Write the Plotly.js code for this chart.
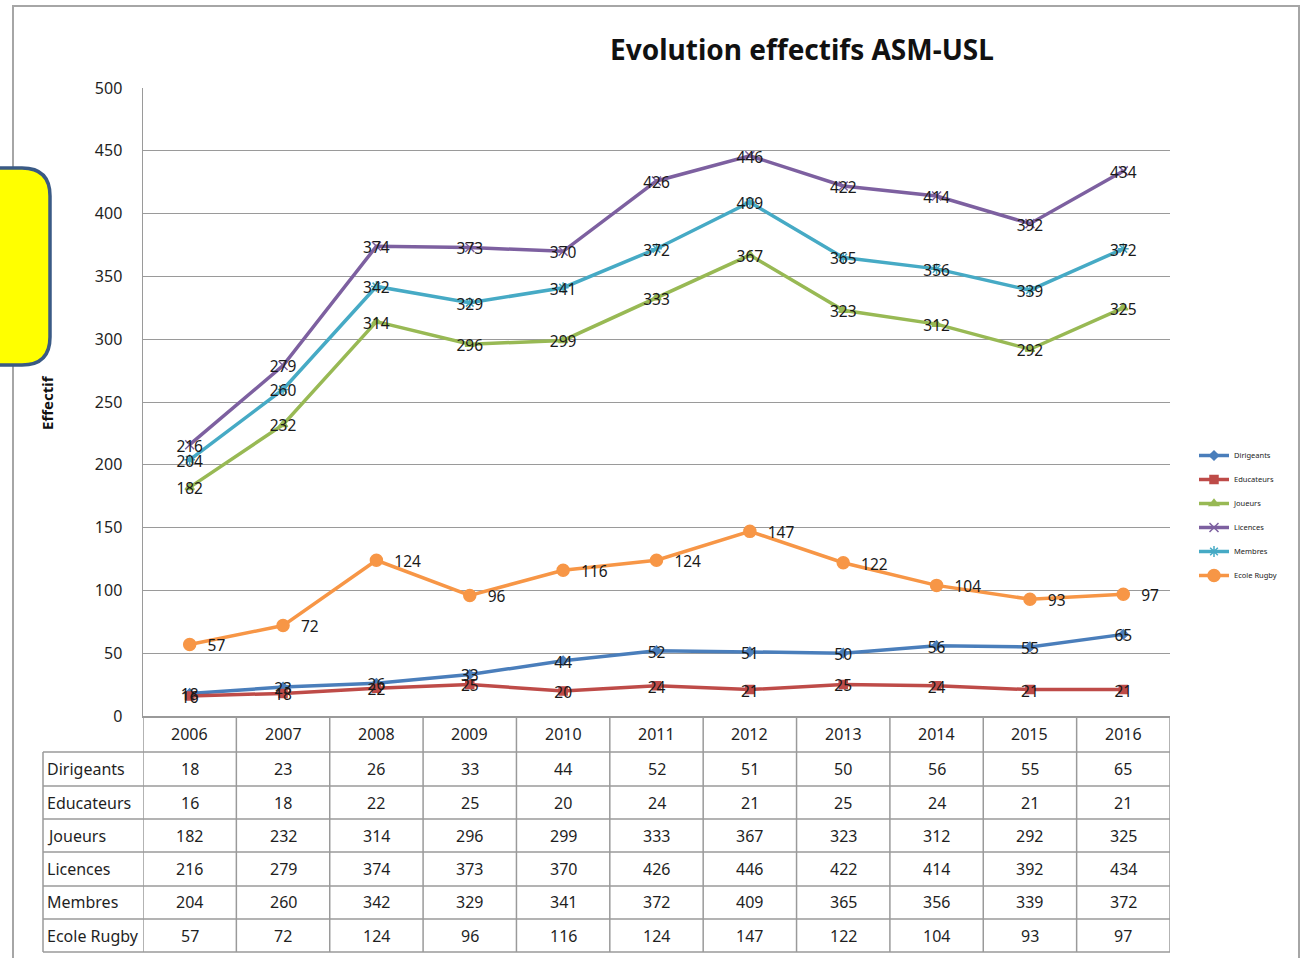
<!DOCTYPE html>
<html>
<head>
<meta charset="utf-8">
<script src="https://cdn.plot.ly/plotly-3.0.1.min.js"></script>
<style>html,body{margin:0;padding:0;background:#fff;}#chart{width:1307px;height:958px;}</style>
</head>
<body>
<div id="chart"></div>
<script>
var years = ['2006','2007','2008','2009','2010','2011','2012','2013','2014','2015','2016'];
var seriesNames = ['Dirigeants','Educateurs','Joueurs','Licences','Membres','Ecole Rugby'];
var dirigeants = [18,23,26,33,44,52,51,50,56,55,65];
var educateurs = [16,18,22,25,20,24,21,25,24,21,21];
var joueurs = [182,232,314,296,299,333,367,323,312,292,325];
var licences = [216,279,374,373,370,426,446,422,414,392,434];
var membres = [204,260,342,329,341,372,409,365,356,339,372];
var ecoleRugby = [57,72,124,96,116,124,147,122,104,93,97];
var yTicks = [0,50,100,150,200,250,300,350,400,450,500];

var allSeries = [dirigeants, educateurs, joueurs, licences, membres, ecoleRugby];
var colors = ['#4A7EBB','#BE4B48','#98B954','#7D60A0','#46AAC5','#F79646'];
var symbols = ['diamond','square','triangle-up','x-thin-open','asterisk-open','circle'];
var msizes = [7,8,8,9,9,12];
var textPos = ['middle center','middle center','middle center','middle center','middle center','middle right'];
var textMarker = [0,0,0,0,0,27];

// pixel -> paper helpers (plot area 143..1170 x 88..716)
var L=143, R=1170, T=88, B=716;
function PX(px){return (px-L)/(R-L);}
function PY(py){return (B-py)/(B-T);}

var FONT = 'Noto Sans, Open Sans, sans-serif';
var traces = [];
allSeries.forEach(function(vals, i){
  traces.push({
    type:'scatter', mode:'lines+markers', x: years, y: vals, name: seriesNames[i],
    legendgroup: 'g'+i,
    line:{color:colors[i], width:3.5},
    marker:{symbol:symbols[i], size:msizes[i], color:colors[i], line:{color:colors[i], width:1.5}},
    hoverinfo:'x+y+name'
  });
});
allSeries.forEach(function(vals, i){
  var t = {
    type:'scatter', mode: textMarker[i] ? 'markers+text' : 'text', x: years, y: vals, showlegend:false,
    yaxis:'y2',
    text: vals.map(String), textposition: textPos[i],
    textfont:{family:FONT, size:15.5, color:'#1a1a1a'}, hoverinfo:'skip', cliponaxis:false
  };
  if (textMarker[i]) t.marker = {size:textMarker[i], opacity:0, color:'rgba(0,0,0,0)'};
  traces.push(t);
});

var shapes = [];
var annotations = [];
var gridCol = '#9a9a9a';
// outer frame
shapes.push({type:'rect', xref:'paper', yref:'paper', x0:PX(13), x1:PX(1299), y0:PY(6), y1:PY(990), line:{color:'#a6a6a6', width:2}, fillcolor:'rgba(0,0,0,0)', layer:'below'});
// yellow rounded box
(function(){
  var x0=-20, x1=50, y0=168, y1=365, r=28;
  var p = 'M '+PX(x0)+','+PY(y0)+' L '+PX(x1-r)+','+PY(y0)+' Q '+PX(x1)+','+PY(y0)+' '+PX(x1)+','+PY(y0+r)+
          ' L '+PX(x1)+','+PY(y1-r)+' Q '+PX(x1)+','+PY(y1)+' '+PX(x1-r)+','+PY(y1)+' L '+PX(x0)+','+PY(y1)+' Z';
  shapes.push({type:'path', xref:'paper', yref:'paper', path:p, fillcolor:'#FFFF00', line:{color:'#3A5A85', width:3.5}});
})();
// table lines
var rowLines = [752,786,819,852,886,919,952];
rowLines.forEach(function(py){
  shapes.push({type:'line', xref:'paper', yref:'paper', x0:PX(43), x1:PX(R), y0:PY(py), y1:PY(py), line:{color:gridCol, width:1.5}});
});
shapes.push({type:'line', xref:'paper', yref:'paper', x0:PX(43), x1:PX(43), y0:PY(752), y1:PY(952), line:{color:gridCol, width:1.5}});
for (var k=0;k<=years.length;k++){
  shapes.push({type:'line', xref:'x', yref:'paper', x0:k-0.5, x1:k-0.5, y0:PY(716), y1:PY(952), line:{color:gridCol, width:1.5}});
}
// year header
years.forEach(function(yr, j){
  annotations.push({xref:'x', yref:'paper', x:j, y:PY(734), text:yr, showarrow:false, xanchor:'center', yanchor:'middle', font:{family:FONT, size:16, color:'#1f1f1f'}});
});
// table rows
var rowCenters = [769,803,836,869,902,936];
seriesNames.forEach(function(nm, i){
  annotations.push({xref:'paper', yref:'paper', x:PX(45), y:PY(rowCenters[i]), text:nm, showarrow:false, xanchor:'left', yanchor:'middle', font:{family:FONT, size:16, color:'#1f1f1f'}});
  allSeries[i].forEach(function(v, j){
    annotations.push({xref:'x', yref:'paper', x:j, y:PY(rowCenters[i]), text:String(v), showarrow:false, xanchor:'center', yanchor:'middle', font:{family:FONT, size:16, color:'#1f1f1f'}});
  });
});
// y axis title
annotations.push({xref:'paper', yref:'paper', x:PX(47), y:PY(403), text:'<b>Effectif</b>', textangle:-90, showarrow:false, xanchor:'center', yanchor:'middle', font:{family:FONT, size:15, color:'#111'}});

var layout = {
  width:1307, height:958,
  margin:{l:L, r:1307-R, t:T, b:958-B},
  paper_bgcolor:'#fff', plot_bgcolor:'#fff',
  title:{text:'<b>Evolution effectifs ASM-USL</b>', x:802/1307, xanchor:'center', y:1-50/958, yanchor:'middle', font:{family:FONT, size:28, color:'#111'}},
  xaxis:{type:'category', range:[-0.5,10.5], showticklabels:false, showgrid:false, zeroline:false, showline:true, linecolor:gridCol, linewidth:1.5, ticks:'', fixedrange:true},
  yaxis:{range:[0,500], tickvals:yTicks, ticktext:yTicks.map(String), showgrid:true, gridcolor:gridCol, gridwidth:1, zeroline:false, showline:true, linecolor:gridCol, linewidth:1.5, ticks:'', ticklabelstandoff:16, tickfont:{family:FONT, size:16, color:'#1f1f1f'}, fixedrange:true},
  yaxis2:{overlaying:'y', range:[2.4,502.4], visible:false, showgrid:false, zeroline:false, fixedrange:true},
  showlegend:true,
  legend:{x:PX(1194), y:PY(441), xanchor:'left', yanchor:'top', font:{family:FONT, size:7.5, color:'#222'}, tracegroupgap:5, bgcolor:'rgba(0,0,0,0)', itemwidth:30},
  shapes:shapes, annotations:annotations
};
Plotly.newPlot('chart', traces, layout, {displayModeBar:false, staticPlot:true});
</script>
</body>
</html>
